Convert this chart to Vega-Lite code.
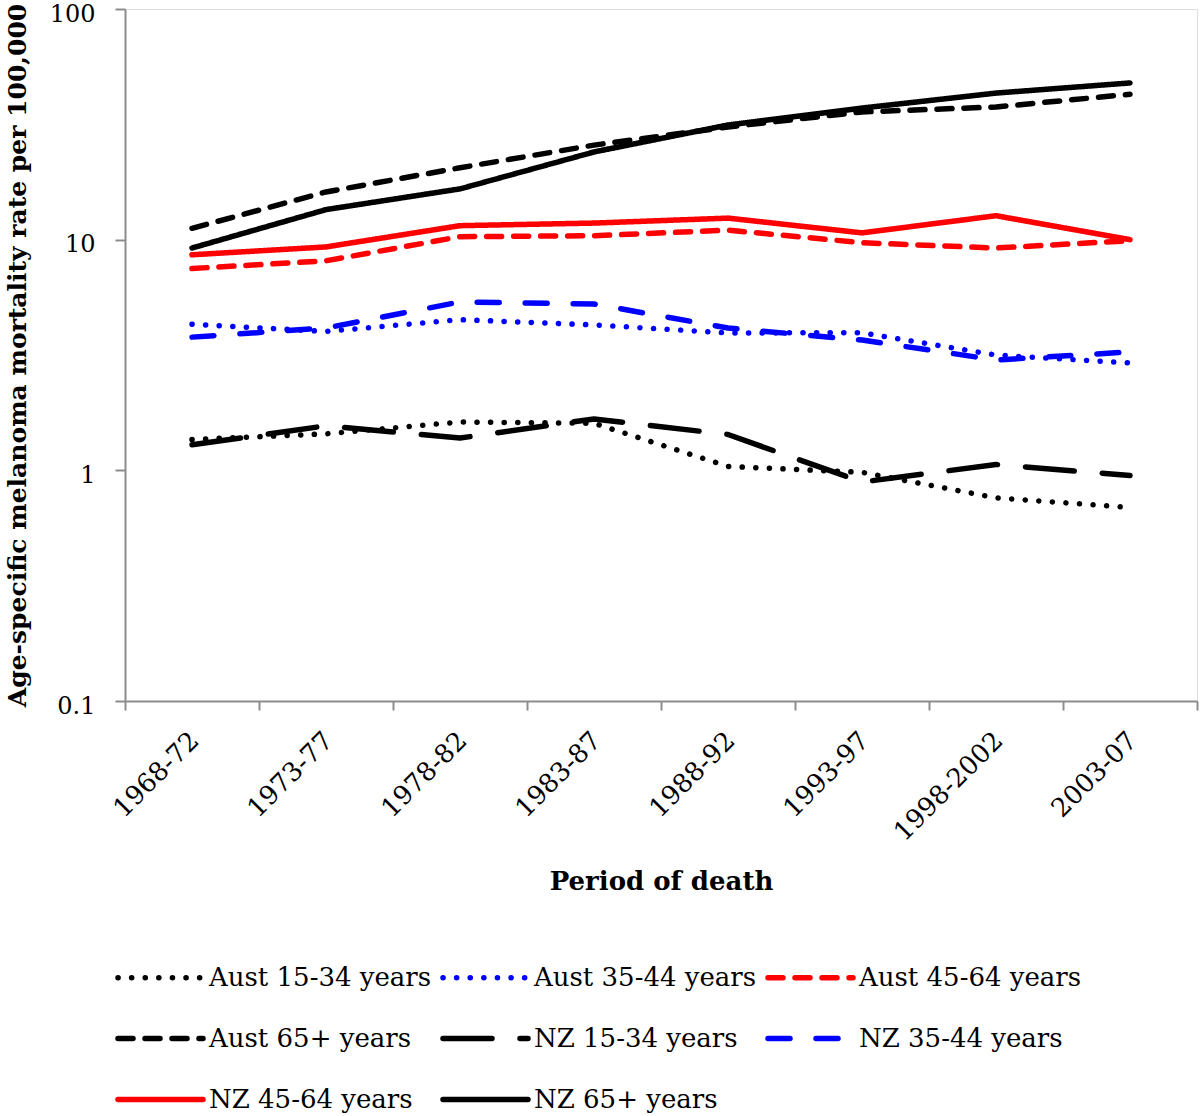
{
  "$schema": "https://vega.github.io/schema/vega-lite/v6.json",
  "autosize": "none",
  "width": 1072,
  "height": 692,
  "padding": {"left": 125, "top": 9, "right": 3, "bottom": 415},
  "background": "white",
  "data": {
    "values": [
      {"period": "1968-72", "series": "Aust 15-34 years", "rate": 1.36},
      {"period": "1973-77", "series": "Aust 15-34 years", "rate": 1.44},
      {"period": "1978-82", "series": "Aust 15-34 years", "rate": 1.62},
      {"period": "1983-87", "series": "Aust 15-34 years", "rate": 1.6},
      {"period": "1988-92", "series": "Aust 15-34 years", "rate": 1.04},
      {"period": "1993-97", "series": "Aust 15-34 years", "rate": 0.98},
      {"period": "1998-2002", "series": "Aust 15-34 years", "rate": 0.76},
      {"period": "2003-07", "series": "Aust 15-34 years", "rate": 0.69},
      {"period": "1968-72", "series": "Aust 35-44 years", "rate": 4.3},
      {"period": "1973-77", "series": "Aust 35-44 years", "rate": 4.0},
      {"period": "1978-82", "series": "Aust 35-44 years", "rate": 4.5},
      {"period": "1983-87", "series": "Aust 35-44 years", "rate": 4.27},
      {"period": "1988-92", "series": "Aust 35-44 years", "rate": 3.94},
      {"period": "1993-97", "series": "Aust 35-44 years", "rate": 3.95},
      {"period": "1998-2002", "series": "Aust 35-44 years", "rate": 3.16},
      {"period": "2003-07", "series": "Aust 35-44 years", "rate": 2.92},
      {"period": "1968-72", "series": "Aust 45-64 years", "rate": 7.5},
      {"period": "1973-77", "series": "Aust 45-64 years", "rate": 8.1},
      {"period": "1978-82", "series": "Aust 45-64 years", "rate": 10.3},
      {"period": "1983-87", "series": "Aust 45-64 years", "rate": 10.4},
      {"period": "1988-92", "series": "Aust 45-64 years", "rate": 11.0},
      {"period": "1993-97", "series": "Aust 45-64 years", "rate": 9.7},
      {"period": "1998-2002", "series": "Aust 45-64 years", "rate": 9.2},
      {"period": "2003-07", "series": "Aust 45-64 years", "rate": 9.9},
      {"period": "1968-72", "series": "Aust 65+ years", "rate": 11.2},
      {"period": "1973-77", "series": "Aust 65+ years", "rate": 16.1},
      {"period": "1978-82", "series": "Aust 65+ years", "rate": 20.5},
      {"period": "1983-87", "series": "Aust 65+ years", "rate": 25.7},
      {"period": "1988-92", "series": "Aust 65+ years", "rate": 30.8},
      {"period": "1993-97", "series": "Aust 65+ years", "rate": 35.8},
      {"period": "1998-2002", "series": "Aust 65+ years", "rate": 37.6},
      {"period": "2003-07", "series": "Aust 65+ years", "rate": 42.7},
      {"period": "1968-72", "series": "NZ 15-34 years", "rate": 1.29},
      {"period": "1973-77", "series": "NZ 15-34 years", "rate": 1.56},
      {"period": "1978-82", "series": "NZ 15-34 years", "rate": 1.38},
      {"period": "1983-87", "series": "NZ 15-34 years", "rate": 1.67},
      {"period": "1988-92", "series": "NZ 15-34 years", "rate": 1.43},
      {"period": "1993-97", "series": "NZ 15-34 years", "rate": 0.89},
      {"period": "1998-2002", "series": "NZ 15-34 years", "rate": 1.06},
      {"period": "2003-07", "series": "NZ 15-34 years", "rate": 0.95},
      {"period": "1968-72", "series": "NZ 35-44 years", "rate": 3.78},
      {"period": "1973-77", "series": "NZ 35-44 years", "rate": 4.14},
      {"period": "1978-82", "series": "NZ 35-44 years", "rate": 5.37},
      {"period": "1983-87", "series": "NZ 35-44 years", "rate": 5.26},
      {"period": "1988-92", "series": "NZ 35-44 years", "rate": 4.14},
      {"period": "1993-97", "series": "NZ 35-44 years", "rate": 3.67},
      {"period": "1998-2002", "series": "NZ 35-44 years", "rate": 3.01},
      {"period": "2003-07", "series": "NZ 35-44 years", "rate": 3.26},
      {"period": "1968-72", "series": "NZ 45-64 years", "rate": 8.6},
      {"period": "1973-77", "series": "NZ 45-64 years", "rate": 9.3},
      {"period": "1978-82", "series": "NZ 45-64 years", "rate": 11.5},
      {"period": "1983-87", "series": "NZ 45-64 years", "rate": 11.8},
      {"period": "1988-92", "series": "NZ 45-64 years", "rate": 12.4},
      {"period": "1993-97", "series": "NZ 45-64 years", "rate": 10.7},
      {"period": "1998-2002", "series": "NZ 45-64 years", "rate": 12.7},
      {"period": "2003-07", "series": "NZ 45-64 years", "rate": 10.0},
      {"period": "1968-72", "series": "NZ 65+ years", "rate": 9.2},
      {"period": "1973-77", "series": "NZ 65+ years", "rate": 13.5},
      {"period": "1978-82", "series": "NZ 65+ years", "rate": 16.6},
      {"period": "1983-87", "series": "NZ 65+ years", "rate": 24.0},
      {"period": "1988-92", "series": "NZ 65+ years", "rate": 31.4},
      {"period": "1993-97", "series": "NZ 65+ years", "rate": 37.2},
      {"period": "1998-2002", "series": "NZ 65+ years", "rate": 43.2},
      {"period": "2003-07", "series": "NZ 65+ years", "rate": 47.8}
    ]
  },
  "mark": {"type": "line", "strokeWidth": 5.5, "strokeCap": "round", "strokeJoin": "round"},
  "encoding": {
    "x": {
      "field": "period",
      "type": "ordinal",
      "sort": ["1968-72", "1973-77", "1978-82", "1983-87", "1988-92", "1993-97", "1998-2002", "2003-07"],
      "scale": {"type": "band", "paddingInner": 0, "paddingOuter": 0},
      "axis": {
        "title": "Period of death",
        "titleFont": "DejaVu Serif",
        "titleFontSize": 26,
        "titleFontWeight": "bold",
        "titleColor": "black",
        "titlePadding": 23,
        "labelAngle": -45,
        "labelFont": "DejaVu Serif",
        "labelFontSize": 26,
        "labelColor": "black",
        "labelPadding": 17,
        "labelOffset": -7,
        "tickBand": "extent",
        "tickSize": 9,
        "tickWidth": 2,
        "tickColor": "#8c8c8c",
        "domainColor": "#8c8c8c",
        "domainWidth": 2,
        "grid": false
      }
    },
    "y": {
      "field": "rate",
      "type": "quantitative",
      "scale": {"type": "log", "domain": [0.1, 100], "nice": false},
      "axis": {
        "title": "Age-specific melanoma mortality rate per 100,000",
        "titleFont": "DejaVu Serif",
        "titleFontSize": 25,
        "titleFontWeight": "bold",
        "titleColor": "black",
        "titleX": -108,
        "titleBaseline": "middle",
        "values": [0.1, 1, 10, 100],
        "format": "~g",
        "labelFont": "DejaVu Serif",
        "labelFontSize": 24,
        "labelColor": "black",
        "labelPadding": 20,
        "labelOffset": 5,
        "tickSize": 10,
        "tickWidth": 2,
        "tickColor": "#8c8c8c",
        "domainColor": "#8c8c8c",
        "domainWidth": 2,
        "grid": false
      }
    },
    "color": {
      "field": "series",
      "type": "nominal",
      "scale": {
        "domain": ["Aust 15-34 years", "Aust 35-44 years", "Aust 45-64 years", "Aust 65+ years", "NZ 15-34 years", "NZ 35-44 years", "NZ 45-64 years", "NZ 65+ years"],
        "range": ["#000000", "#0000ff", "#ff0000", "#000000", "#000000", "#0000ff", "#ff0000", "#000000"]
      },
      "legend": {
        "title": null,
        "orient": "none",
        "legendX": -10,
        "legendY": 923,
        "direction": "horizontal",
        "columns": 3,
        "columnPadding": 0,
        "rowPadding": 2,
        "symbolType": "stroke",
        "symbolSize": 7225,
        "symbolStrokeWidth": 5.5,
        "labelFont": "DejaVu Serif",
        "labelFontSize": 26,
        "labelColor": "black",
        "labelLimit": 400,
        "labelOffset": 3,
        "encode": {"symbols": {"update": {"strokeCap": {"value": "round"}}}}
      }
    },
    "strokeDash": {
      "field": "series",
      "type": "nominal",
      "scale": {
        "domain": ["Aust 15-34 years", "Aust 35-44 years", "Aust 45-64 years", "Aust 65+ years", "NZ 15-34 years", "NZ 35-44 years", "NZ 45-64 years", "NZ 65+ years"],
        "range": [[0.1, 13.5], [0.1, 13.5], [15, 12], [15, 12], [49, 28], [22, 26], [1, 0], [1, 0]]
      },
      "legend": null
    }
  }
}
